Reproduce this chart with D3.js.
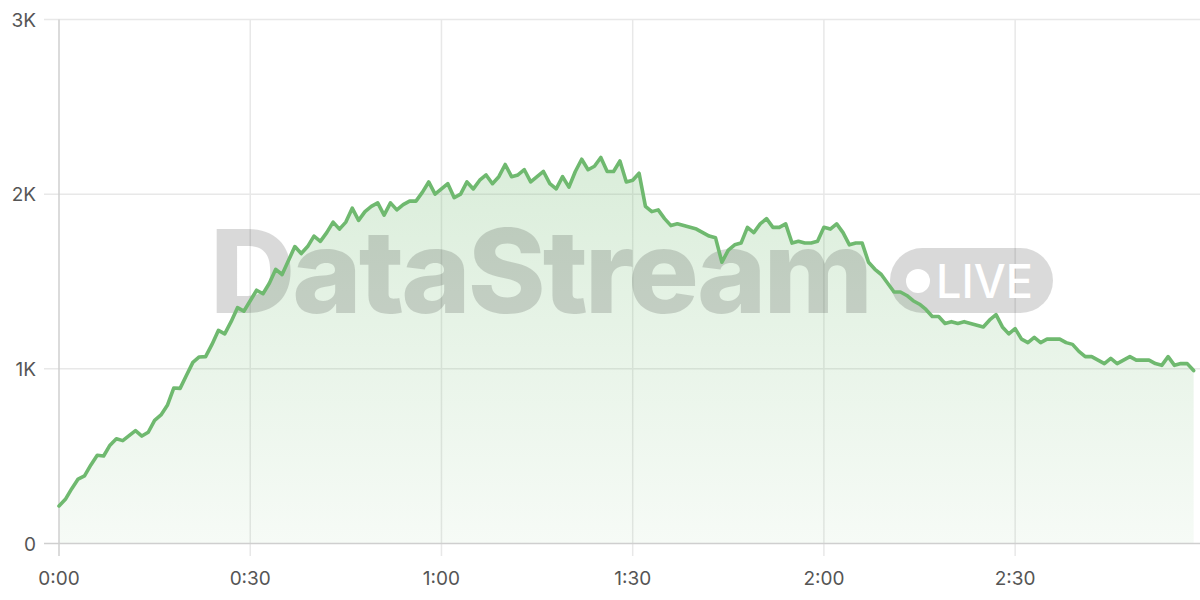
<!DOCTYPE html>
<html><head><meta charset="utf-8">
<script src="https://cdn.jsdelivr.net/npm/d3@7"></script>
<style>
html,body{margin:0;padding:0;background:#fff;}
svg{display:block;font-family:Inter,"Open Sans",sans-serif;}
</style></head>
<body><svg id="chart" width="1200" height="600"></svg>
<script>
const minutes = d3.range(0, 179);
const viewers = [
215,253,314,369,387,450,505,501,563,600,589,618,646,615,637,705,736,791,890,888,
963,1037,1068,1070,1140,1220,1200,1270,1350,1330,1390,1450,1430,1490,1570,1540,1620,1700,1660,1700,
1760,1730,1780,1840,1800,1840,1920,1850,1900,1930,1950,1880,1950,1910,1940,1960,1960,2010,2070,2000,
2030,2060,1980,2000,2070,2030,2080,2110,2060,2100,2170,2100,2110,2140,2070,2100,2130,2060,2030,2100,
2040,2130,2200,2140,2160,2210,2130,2130,2190,2070,2080,2120,1930,1900,1910,1860,1820,1830,1820,1810,
1800,1780,1760,1750,1610,1680,1710,1720,1810,1780,1830,1860,1810,1810,1830,1720,1730,1720,1720,1730,
1810,1800,1830,1780,1710,1720,1720,1610,1570,1540,1490,1440,1440,1420,1390,1370,1340,1300,1300,1260,
1270,1260,1270,1260,1250,1240,1280,1310,1240,1200,1230,1170,1150,1180,1150,1170,1170,1170,1150,1140,
1100,1070,1070,1050,1030,1060,1030,1050,1070,1050,1050,1050,1030,1020,1070,1020,1030,1030,990
];
const xTicks = [0,30,60,90,120,150];
const xTickLabels = ["0:00","0:30","1:00","1:30","2:00","2:30"];
const yTicks = [0,1000,2000,3000];
const yTickLabels = ["0","1K","2K","3K"];

(function(){
const svg = d3.select("#chart");
const pLeft = 59, pRight = 1200, pTop = 19.5, pBottom = 543.5;
const x = d3.scaleLinear().domain([0,179]).range([pLeft,pRight]);
const y = d3.scaleLinear().domain([0,3000]).range([pBottom,pTop]);

const defs = svg.append("defs");
const grad = defs.append("linearGradient").attr("id","ag")
  .attr("gradientUnits","userSpaceOnUse").attr("x1",0).attr("x2",0).attr("y1",y(2200)).attr("y2",pBottom);
grad.append("stop").attr("offset",0).attr("stop-color","#6cb86c").attr("stop-opacity",0.25);
grad.append("stop").attr("offset",1).attr("stop-color","#6cb86c").attr("stop-opacity",0.06);

svg.append("g").selectAll("line").data(yTicks.filter(d=>d>0)).join("line")
  .attr("x1",44).attr("x2",1200).attr("y1",d=>y(d)).attr("y2",d=>y(d))
  .attr("stroke","#e8e8e8").attr("stroke-width",1.5);
svg.append("g").selectAll("line").data(xTicks.filter(d=>d>0)).join("line")
  .attr("x1",d=>x(d)).attr("x2",d=>x(d)).attr("y1",pTop).attr("y2",556)
  .attr("stroke","#e8e8e8").attr("stroke-width",1.5);

const area = d3.area().x((d,i)=>x(minutes[i])).y0(pBottom).y1(d=>y(d));
svg.append("path").datum(viewers).attr("d",area).attr("fill","url(#ag)");

const wm = svg.append("g").attr("opacity",0.145);
wm.append("text").attr("x",210).attr("y",313).attr("font-size",116).attr("font-weight",800)
  .attr("textLength",660).attr("lengthAdjust","spacingAndGlyphs")
  .attr("letter-spacing",-3).attr("fill","#000").text("DataStream");
wm.append("rect").attr("x",890).attr("y",248).attr("width",163).attr("height",65).attr("rx",32.5).attr("fill","#000");
const badge = svg.append("g");
badge.append("circle").attr("cx",918).attr("cy",281).attr("r",12).attr("fill","#fff");
badge.append("text").attr("x",936).attr("y",298).attr("font-size",46).attr("font-weight",500)
  .attr("textLength",97).attr("lengthAdjust","spacingAndGlyphs").attr("fill","#fff").text("LIVE");

svg.append("line").attr("x1",44).attr("x2",1200).attr("y1",pBottom).attr("y2",pBottom).attr("stroke","#cfcfcf").attr("stroke-width",1.5);
svg.append("line").attr("x1",pLeft).attr("x2",pLeft).attr("y1",pTop).attr("y2",556).attr("stroke","#cfcfcf").attr("stroke-width",1.5);

const line = d3.line().x((d,i)=>x(minutes[i])).y(d=>y(d));
svg.append("path").datum(viewers).attr("d",line).attr("fill","none")
  .attr("stroke","#6fb96f").attr("stroke-width",3.6).attr("stroke-linejoin","round").attr("stroke-linecap","round");

svg.append("g").selectAll("text").data(yTicks).join("text")
  .attr("x",36).attr("y",d=>y(d)+7).attr("text-anchor","end").attr("font-size",19).attr("fill","#555")
  .text((d,i)=>yTickLabels[i]);
svg.append("g").selectAll("text").data(xTicks).join("text")
  .attr("x",d=>x(d)).attr("y",585).attr("text-anchor","middle").attr("font-size",19).attr("fill","#555")
  .text((d,i)=>xTickLabels[i]);
})();
</script></body></html>
